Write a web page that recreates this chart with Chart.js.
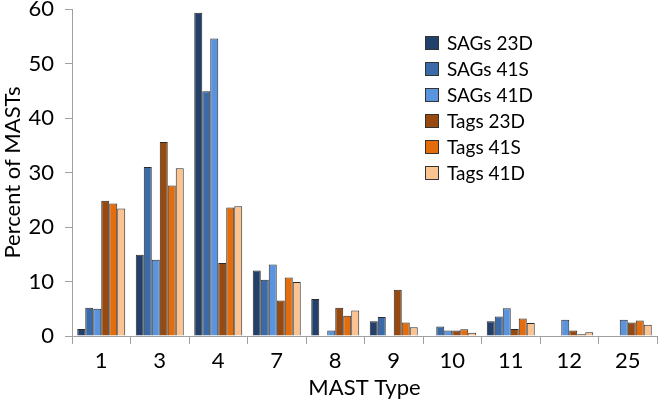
<!DOCTYPE html>
<html>
<head>
<meta charset="utf-8">
<script src="https://cdn.jsdelivr.net/npm/chart.js@4"></script>
<style>
  html, body { margin: 0; padding: 0; background: #fff; }
  #wrap { width: 666px; height: 401px; }
</style>
</head>
<body>
<div id="wrap"><canvas id="chart" width="666" height="401"></canvas></div>
<script>
"use strict";

// MAST type categories (x axis)
const mastTypes = ["1", "3", "4", "7", "8", "9", "10", "11", "12", "25"];

// percent of MASTs, per series
const sags23D = [1.3, 14.9, 59.3, 12.0, 6.8, 2.7, 0,    2.7, 0,   0];
const sags41S = [5.2, 31.0, 44.9, 10.3, 0,   3.5, 1.75, 3.6, 0,   0];
const sags41D = [5.0, 14.0, 54.6, 13.1, 1.0, 0,   1.0,  5.1, 3.0, 3.0];
const tags23D = [24.8, 35.6, 13.4, 6.5, 5.2, 8.5, 1.0,  1.3, 1.0, 2.5];
const tags41S = [24.3, 27.6, 23.6, 10.75, 3.7, 2.5, 1.25, 3.2, 0.3, 2.85];
const tags41D = [23.4, 30.8, 23.8, 9.9, 4.7, 1.6, 0.6,  2.4, 0.7, 2.05];

// y axis ticks
const yTicks = [0, 10, 20, 30, 40, 50, 60];

const seriesLabels = ["SAGs 23D", "SAGs 41S", "SAGs 41D", "Tags 23D", "Tags 41S", "Tags 41D"];
const seriesColors = ["#22406a", "#3b6aa8", "#5b94de", "#97490f", "#e46c0a", "#fac391"];
const seriesData = [sags23D, sags41S, sags41D, tags23D, tags41S, tags41D];

const fontFamily = "Lato, 'Open Sans', sans-serif";

// 凡例（グラフ右上に描画）
const legendPlugin = {
    id: "sideLegend",
    afterDraw(chart) {
        const ctx = chart.ctx;
        ctx.save();
        ctx.font = "19px " + fontFamily;
        ctx.textBaseline = "middle";
        chart.data.datasets.forEach((ds, i) => {
            const y = 43 + i * 26;
            ctx.fillStyle = ds.backgroundColor;
            ctx.fillRect(425, y - 7, 14, 14);
            ctx.strokeStyle = "#333";
            ctx.lineWidth = 1;
            ctx.strokeRect(425.5, y - 6.5, 13, 13);
            ctx.fillStyle = "#000";
            ctx.fillText(ds.label, 447, y + 1);
        });
        ctx.restore();
    }
};

const datasets = seriesLabels.map((label, i) => ({
    label: label,
    data: seriesData[i],
    backgroundColor: seriesColors[i],
    borderColor: "#2a2a2a",
    borderWidth: 1,
    categoryPercentage: 0.82,
    barPercentage: 1.0
}));

new Chart(document.getElementById("chart"), {
    type: "bar",
    data: { labels: mastTypes, datasets: datasets },
    options: {
        responsive: false,
        animation: false,
        layout: { padding: { top: 9, right: 9, left: 0, bottom: 0 } },
        plugins: {
            legend: { display: false },
            tooltip: { enabled: false }
        },
        scales: {
            x: {
                offset: true,
                grid: {
                    offset: true,
                    drawOnChartArea: false,
                    color: "#a0a0a0",
                    tickLength: 8
                },
                border: { color: "#a0a0a0" },
                ticks: { color: "#000", font: { family: fontFamily, size: 22 }, padding: 4 },
                title: {
                    display: true,
                    text: "MAST Type",
                    color: "#000",
                    font: { family: fontFamily, size: 22 },
                    padding: { top: 0, bottom: 0 }
                },
                afterFit: axis => {
                    axis.height = 65;
                    axis.paddingLeft = 0;
                    axis.paddingRight = 0;
                }
            },
            y: {
                min: 0,
                max: 60,
                afterBuildTicks: axis => { axis.ticks = yTicks.map(v => ({ value: v })); },
                grid: {
                    drawOnChartArea: false,
                    color: "#a0a0a0",
                    tickLength: 7
                },
                border: { color: "#a0a0a0" },
                ticks: { color: "#000", font: { family: fontFamily, size: 22 }, padding: 11 },
                title: {
                    display: true,
                    text: "Percent of MASTs",
                    color: "#000",
                    font: { family: fontFamily, size: 22 },
                    padding: { top: 0, bottom: 0 }
                },
                afterFit: axis => {
                    axis.width = 72;
                    axis.paddingTop = 0;
                    axis.paddingBottom = 0;
                }
            }
        }
    },
    plugins: [legendPlugin]
});
</script>
</body>
</html>
